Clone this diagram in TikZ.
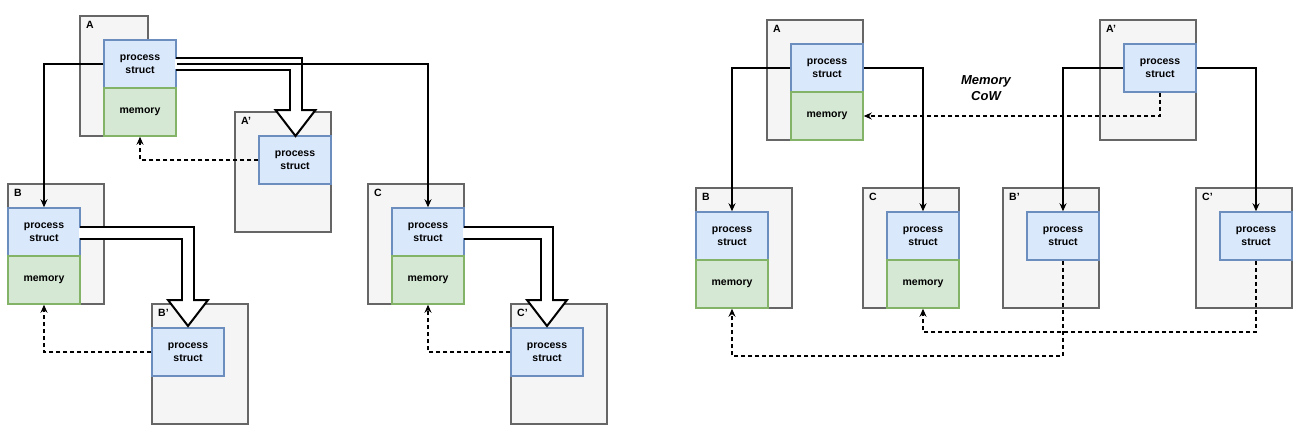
\documentclass[tikz,border=0pt]{standalone}
\usepackage{fontspec}
\setmainfont{Liberation Sans}
\usetikzlibrary{arrows.meta}
\definecolor{gf}{HTML}{F5F5F5}\definecolor{gs}{HTML}{666666}
\definecolor{bf}{HTML}{DAE8FC}\definecolor{bs}{HTML}{6C8EBF}
\definecolor{mf}{HTML}{D5E8D4}\definecolor{ms}{HTML}{82B366}
\tikzset{
 box/.style={draw=gs,fill=gf,line width=1.5pt},
 ps/.style={draw=bs,fill=bf,line width=1.5pt,font=\bfseries\fontsize{10.5}{13}\selectfont,align=center,inner sep=0pt},
 mem/.style={draw=ms,fill=mf,line width=1.5pt,font=\bfseries\fontsize{10.5}{13}\selectfont,inner sep=0pt},
 lab/.style={font=\bfseries\fontsize{10.5}{12}\selectfont,anchor=north west,inner sep=0pt},
 con/.style={line width=1.5pt,-{Stealth[length=8pt,width=7pt]}},
 dcon/.style={line width=1.3pt,dash pattern=on 4pt off 3pt,-{Stealth[length=8pt,width=7pt]}}
}
\newcommand{\gbox}[5]{\draw[box] (#1,#2) rectangle (#3,#4); \node[lab] at (#1+6,#2+5) {#5};}
\newcommand{\pstruct}[3]{\node[ps,minimum width=72pt,minimum height=48pt] (#1) at (#2+36,#3+24) {process\\struct};}
\newcommand{\pmem}[3]{\node[mem,minimum width=72pt,minimum height=48pt] (#1) at (#2+36,#3+24) {memory};}
\newcommand{\bigarrow}[4]{% start node coordinate x,y ; corner x ; end y
 \draw[line width=14pt] (#1,#2) -- (#3,#2) -- (#3,#4);
 \draw[line width=10pt,white] (#1-1,#2) -- (#3,#2) -- (#3,#4+3);
 \draw[line width=2pt,fill=white,line join=miter] (#3-20,#4) -- (#3+20,#4) -- (#3,#4+26) -- cycle;
 \fill[white] (#3-5,#4+2) rectangle (#3+5,#4-1);}
\begin{document}
\begin{tikzpicture}[x=1pt,y=-1pt]
\useasboundingbox (0,0) rectangle (1300,429);
% left
\gbox{80}{16}{148}{136}{A}
\gbox{235}{112}{331}{232}{A'}
\gbox{8}{184}{104}{304}{B}
\gbox{152}{304}{248}{424}{B'}
\gbox{368}{184}{464}{304}{C}
\gbox{511}{304}{607}{424}{C'}
\pstruct{pA}{104}{40}\pmem{mA}{104}{88}
\pstruct{pAp}{259}{136}
\pstruct{pB}{8}{208}\pmem{mB}{8}{256}
\pstruct{pBp}{152}{328}
\pstruct{pC}{392}{208}\pmem{mC}{392}{256}
\pstruct{pCp}{511}{328}
\bigarrow{176}{63.5}{295.5}{110}
\bigarrow{80}{233}{188}{300}
\bigarrow{464}{233}{547}{300}
\draw[con] (pA.west) -- (44,64) -- (pB.north -| 44,0);
\draw[con] (pA.east) -- (428,64) -- (pC.north -| 428,0);
\draw[dcon] (pAp.west) -- (140,160) -- (mA.south -| 140,0);
\draw[dcon] (pBp.west) -- (44,352) -- (mB.south -| 44,0);
\draw[dcon] (pCp.west) -- (428,352) -- (mC.south -| 428,0);
% right
\gbox{767}{20}{863}{140}{A}
\gbox{1100}{20}{1196}{140}{A'}
\gbox{696}{188}{792}{308}{B}
\gbox{863}{188}{959}{308}{C}
\gbox{1003}{188}{1099}{308}{B'}
\gbox{1196}{188}{1292}{308}{C'}
\pstruct{qA}{791}{44}\pmem{nA}{791}{92}
\pstruct{qAp}{1124}{44}
\pstruct{qB}{696}{212}\pmem{nB}{696}{260}
\pstruct{qC}{887}{212}\pmem{nC}{887}{260}
\pstruct{qBp}{1027}{212}
\pstruct{qCp}{1220}{212}
\draw[con] (qA.west) -- (732,68) -- (qB.north);
\draw[con] (qA.east) -- (923,68) -- (qC.north);
\draw[con] (qAp.west) -- (1063,68) -- (qBp.north);
\draw[con] (qAp.east) -- (1256,68) -- (qCp.north);
\draw[dcon] (qAp.south) -- (1160,116) -- (nA.east);
\draw[dcon] (qBp.south) -- (1063,356) -- (732,356) -- (nB.south);
\draw[dcon] (qCp.south) -- (1256,332) -- (923,332) -- (nC.south);
\node[font=\bfseries\itshape\fontsize{13}{16}\selectfont,align=center] (cow) at (986,88) {Memory\\CoW};
\end{tikzpicture}
\end{document}
